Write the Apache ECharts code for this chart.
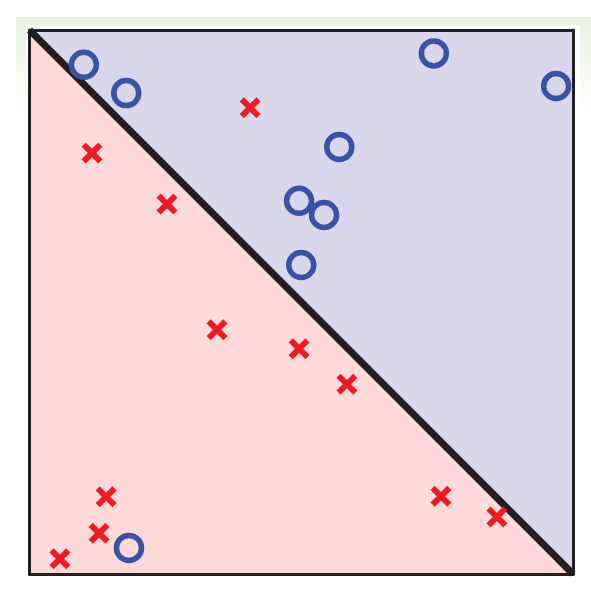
<!DOCTYPE html>
<html>
<head>
<meta charset="utf-8">
<script src="https://cdn.jsdelivr.net/npm/echarts@6/dist/echarts.min.js"></script>
<style>
html,body{margin:0;padding:0;background:#fff;}
#chart{width:591px;height:602px;}
</style>
</head>
<body>
<div id="chart"></div>
<script>
// Class A (blue circles): [x, y] on a 0–100 scale
const circlePoints = [
  [10.0, 93.6], [17.8, 88.4], [74.4, 95.7], [96.9, 89.7], [57.0, 78.5],
  [49.6, 68.6], [54.2, 66.0], [50.0, 56.8], [18.3, 4.8]
];
// Class B (red crosses)
const crossPoints = [
  [40.6, 85.7], [11.5, 77.4], [25.3, 68.0], [34.5, 44.9], [49.6, 41.4],
  [58.4, 34.9], [14.1, 14.2], [12.8, 7.5], [5.6, 2.8], [75.7, 14.3], [86.0, 10.5]
];
// Decision boundary
const boundary = [[0, 100], [100, 0]];

const chart = echarts.init(document.getElementById('chart'));
const crossPath = 'path://M0,20L20,0L50,30L80,0L100,20L70,50L100,80L80,100L50,70L20,100L0,80L30,50Z';

function frameAxis(pos, show) {
  return {
    type: 'value', min: 0, max: 100, position: pos, z: 20,
    axisLine: { show: true, onZero: false, lineStyle: { color: '#231f20', width: 3 } },
    axisTick: { show: false }, axisLabel: { show: false }, splitLine: { show: false }
  };
}

chart.setOption({
  animation: false,
  backgroundColor: 'transparent',
  graphic: [
    {
      type: 'rect', z: -10, silent: true,
      shape: { x: 16, y: 17, width: 575, height: 95 },
      style: {
        fill: new echarts.graphic.LinearGradient(0, 0, 0, 1, [
          { offset: 0, color: '#e8f2df' },
          { offset: 1, color: '#ffffff' }
        ])
      }
    },
    {
      type: 'rect', z: -9, silent: true,
      shape: { x: 26, y: 25, width: 554, height: 556 },
      style: { fill: '#ffffff' }
    }
  ],
  grid: {
    left: 29.5, top: 30, width: 543.5, height: 544,
    show: true, backgroundColor: '#d9d7ec', borderWidth: 0, z: 1
  },
  xAxis: [frameAxis('bottom'), frameAxis('top')],
  yAxis: [frameAxis('left'), frameAxis('right')],
  series: [
    {
      type: 'line', data: boundary, symbol: 'none', z: 6,
      lineStyle: { color: '#231f20', width: 7 },
      areaStyle: { color: '#fdd9da', opacity: 1, origin: 'start' }
    },
    {
      type: 'scatter', data: crossPoints, z: 8, clip: false,
      symbol: crossPath, symbolSize: 21, symbolKeepAspect: true,
      itemStyle: { color: '#ed1c24', opacity: 1 }
    },
    {
      type: 'scatter', data: circlePoints, z: 9, clip: false,
      symbol: 'circle', symbolSize: 25,
      itemStyle: { color: 'rgba(0,0,0,0)', borderColor: '#3853a4', borderWidth: 5.5, opacity: 1 }
    }
  ]
});
</script>
</body>
</html>
